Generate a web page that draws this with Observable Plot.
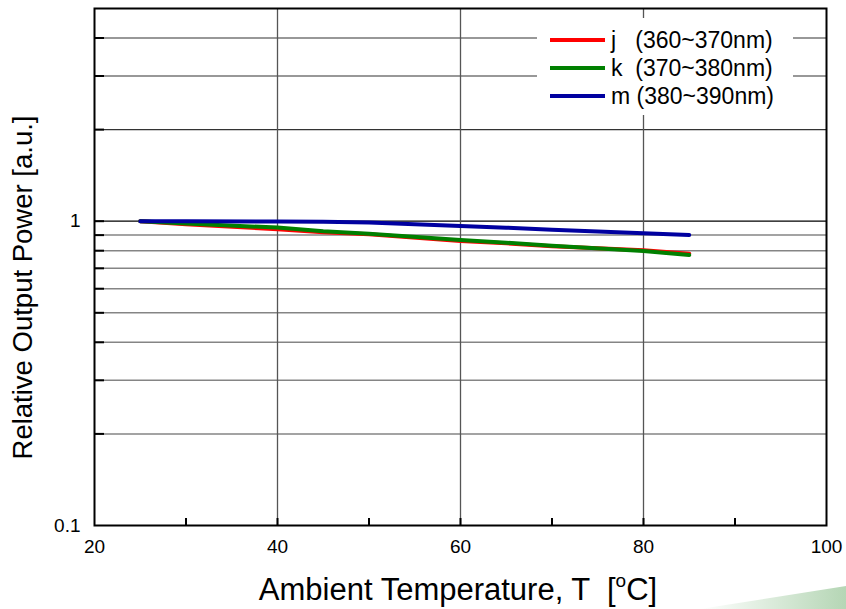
<!DOCTYPE html>
<html>
<head>
<meta charset="utf-8">
<script src="https://cdn.jsdelivr.net/npm/d3@7"></script>
<script src="https://cdn.jsdelivr.net/npm/@observablehq/plot@0.6"></script>
<style>
  body { margin: 0; background: #fff; }
  #chart { position: relative; width: 846px; height: 609px; overflow: hidden; }
</style>
</head>
<body>
<div id="chart"></div>
<script>
// ---- data ----
const temps = [25, 30, 40, 45, 50, 60, 65, 70, 80, 85];
const seriesJ = [1.0, 0.978, 0.941, 0.920, 0.906, 0.861, 0.846, 0.828, 0.802, 0.782];
const seriesK = [1.0, 0.982, 0.953, 0.927, 0.910, 0.868, 0.850, 0.830, 0.798, 0.774];
const seriesM = [1.0, 0.999, 0.997, 0.996, 0.990, 0.965, 0.952, 0.937, 0.913, 0.901];
const seriesNames = ["j   (360~370nm)", "k  (370~380nm)", "m (380~390nm)"];
const seriesColors = ["#ff0000", "#008000", "#0000a0"];
const xTicks = [20, 40, 60, 80, 100];
const xMinorTicks = [30, 50, 70, 90];
const xGrid = [40, 60, 80];
const yTicks = [0.1, 1];
const yMinorGrid = [0.2, 0.3, 0.4, 0.5, 0.6, 0.7, 0.8, 0.9];
const yMajorGrid = [2, 3, 4];
const yLabel = "Relative Output Power [a.u.]";
const xLabelMain = "Ambient Temperature, T  [";
const xLabelSup = "o";
const xLabelEnd = "C]";

const allValues = [seriesJ, seriesK, seriesM];
const data = [];
seriesNames.forEach((name, i) => temps.forEach((t, j) => data.push({series: name, t, v: allValues[i][j]})));

const W = 846, H = 609, ML = 94, MR = 20, MT = 8, MB = 84;
const plotW = W - ML - MR, plotH = H - MT - MB;
const font = "'Liberation Sans', Arial, sans-serif";

const chart = Plot.plot({
  width: W, height: H,
  marginLeft: ML, marginRight: MR, marginTop: MT, marginBottom: MB,
  style: {fontFamily: font, background: "white", color: "#000"},
  x: {domain: [20, 100]},
  y: {type: "log", domain: [0.1, 5]},
  color: {domain: seriesNames, range: seriesColors},
  marks: [
    Plot.ruleY(yMinorGrid, {stroke: "#858585", strokeWidth: 1.5}),
    Plot.ruleY(yMajorGrid, {stroke: "#333", strokeWidth: 1.2}),
    Plot.ruleY([1], {stroke: "#000", strokeWidth: 1.2}),
    Plot.ruleX(xGrid, {stroke: "#555", strokeWidth: 1.3}),
    Plot.tickY([...yMinorGrid, 1, ...yMajorGrid], {insetRight: plotW - 10, stroke: "#000", strokeWidth: 2}),
    Plot.tickX([...xMinorTicks, ...xGrid], {insetTop: plotH - 7, stroke: "#000", strokeWidth: 2}),
    Plot.line(data, {x: "t", y: "v", z: "series", stroke: "series", strokeWidth: 4}),
    Plot.frame({stroke: "#000", strokeWidth: 2}),
    Plot.axisY({ticks: yTicks, tickFormat: d => String(d), tickSize: 0, tickPadding: 14, fontSize: 19, label: null}),
    Plot.axisX({ticks: xTicks, tickFormat: d => String(d), tickSize: 0, tickPadding: 14, fontSize: 19, label: null}),
    Plot.text([yLabel], {text: d => d, frameAnchor: "left", textAnchor: "middle", rotate: -90, dx: -71, dy: 20.5, fontSize: 27.5, fill: "#000"})
  ]
});
document.getElementById("chart").appendChild(chart);

const svg = d3.select(chart);

// x label with superscript
const xl = svg.append("text")
  .attr("x", 458).attr("y", 600)
  .attr("text-anchor", "middle")
  .style("font-family", font).style("font-size", "31px").style("white-space", "pre").attr("fill", "#000");
xl.append("tspan").text(xLabelMain);
xl.append("tspan").attr("dy", -13).style("font-size", "19px").text(xLabelSup);
xl.append("tspan").attr("dy", 13).text(xLabelEnd);

// legend
const lg = svg.append("g");
lg.append("rect").attr("x", 537).attr("y", 18).attr("width", 256).attr("height", 97).attr("fill", "white");
seriesNames.forEach((name, i) => {
  const cy = 40 + i * 28;
  lg.append("line").attr("x1", 550).attr("x2", 605).attr("y1", cy).attr("y2", cy)
    .attr("stroke", seriesColors[i]).attr("stroke-width", 4);
  lg.append("text").attr("x", 611).attr("y", cy + 7.5)
    .attr("text-anchor", "start")
    .style("font-family", font).style("font-size", "23px").style("white-space", "pre")
    .attr("fill", "#000").text(name);
});

// decorative swoosh bottom right
const defs = svg.append("defs");
const gr = defs.append("linearGradient").attr("id", "sw").attr("x1", "0").attr("x2", "1").attr("y1", "0").attr("y2", "0");
gr.append("stop").attr("offset", "0").attr("stop-color", "#ffffff");
gr.append("stop").attr("offset", "1").attr("stop-color", "#b5d6b5");
svg.append("polygon").attr("points", "700,609 846,586 846,609").attr("fill", "url(#sw)");
</script>
</body>
</html>
